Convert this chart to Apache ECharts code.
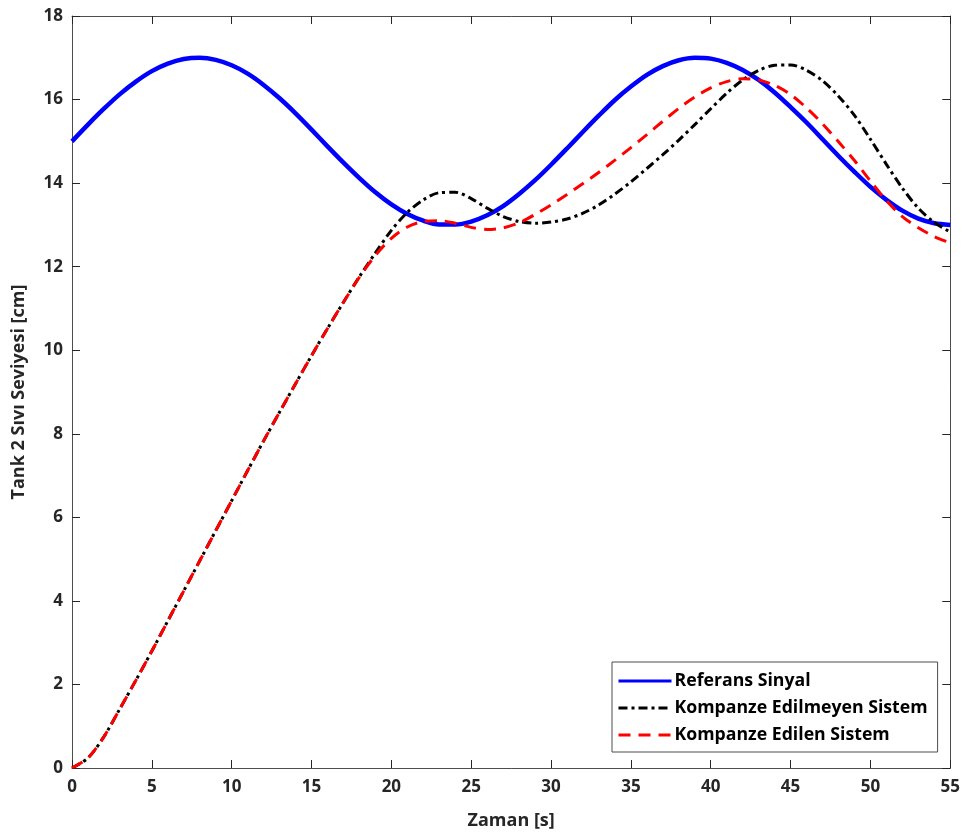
<!DOCTYPE html>
<html>
<head>
<meta charset="utf-8">
<script src="https://cdn.jsdelivr.net/npm/echarts@6/dist/echarts.min.js"></script>
<style>html,body{margin:0;padding:0;background:#fff}#c{width:963px;height:835px}</style>
</head>
<body>
<div id="c"></div>
<script>
const times = [0,1,2,3,4,5,6,7,8,9,10,11,12,13,14,15,16,17,18,19,20,21,22,23,24,25,26,27,28,29,30,31,32,33,34,35,36,37,38,39,40,41,42,43,44,45,46,47,48,49,50,51,52,53,54,55];
const referans = [15.00,15.40,15.78,16.13,16.43,16.68,16.86,16.97,17.00,16.95,16.82,16.62,16.35,16.03,15.67,15.28,14.88,14.49,14.12,13.78,13.49,13.26,13.10,13.01,13.01,13.08,13.23,13.45,13.74,14.07,14.44,14.83,15.23,15.62,15.99,16.31,16.59,16.80,16.94,17.00,16.98,16.88,16.71,16.47,16.17,15.82,15.45,15.05,14.65,14.27,13.91,13.60,13.34,13.15,13.04,13.00];
const kompanzeEdilmeyen = [0,0.24,0.75,1.42,2.1,2.8,3.52,4.24,4.96,5.68,6.4,7.12,7.83,8.52,9.2,9.87,10.52,11.15,11.76,12.33,12.87,13.3,13.6,13.77,13.78,13.63,13.4,13.2,13.08,13.04,13.07,13.14,13.28,13.48,13.74,14.03,14.35,14.68,15.03,15.4,15.78,16.15,16.47,16.7,16.82,16.83,16.7,16.45,16.08,15.62,15.05,14.45,13.88,13.4,13.06,12.83];
const kompanzeEdilen = [0,0.24,0.75,1.42,2.1,2.8,3.52,4.24,4.96,5.68,6.4,7.12,7.83,8.52,9.2,9.87,10.52,11.15,11.75,12.27,12.68,12.95,13.08,13.1,13.04,12.94,12.89,12.93,13.05,13.25,13.48,13.73,13.99,14.26,14.55,14.85,15.16,15.48,15.79,16.06,16.28,16.43,16.5,16.47,16.34,16.12,15.8,15.42,14.99,14.54,14.05,13.58,13.2,12.93,12.72,12.57];
const seriesNames = ['Referans Sinyal','Kompanze Edilmeyen Sistem','Kompanze Edilen Sistem'];
const xTitle = 'Zaman [s]';
const yTitle = 'Tank 2 Sıvı Seviyesi [cm]';

const pairs = arr => times.map((t,i)=>[t,arr[i]]);
const FONT = 'Open Sans';
const txt = '#262626';
const axisBase = {
  axisLine:{show:true,onZero:false,lineStyle:{color:'#4d4d4d',width:1}},
  axisTick:{show:true,inside:true,length:8,lineStyle:{color:'#262626',width:1}},
  splitLine:{show:false}
};
const chart = echarts.init(document.getElementById('c'),null,{renderer:'canvas'});
chart.setOption({
  animation:false,
  backgroundColor:'#fff',
  grid:{left:72,right:11,top:16,bottom:67,containLabel:false},
  xAxis:[
    Object.assign({type:'value',min:0,max:55,interval:5,position:'bottom',
      name:xTitle,nameLocation:'middle',nameGap:44,
      nameTextStyle:{fontFamily:FONT,fontWeight:'bold',fontSize:18,color:txt},
      axisLabel:{fontFamily:FONT,fontWeight:'bold',fontSize:17,color:txt,margin:11}},axisBase),
    Object.assign({type:'value',min:0,max:55,interval:5,position:'top',axisLabel:{show:false}},axisBase)
  ],
  yAxis:[
    Object.assign({type:'value',min:0,max:18,interval:2,position:'left',
      name:yTitle,nameLocation:'middle',nameGap:44,
      nameTextStyle:{fontFamily:FONT,fontWeight:'bold',fontSize:18,color:txt},
      axisLabel:{fontFamily:FONT,fontWeight:'bold',fontSize:17,color:txt,margin:9}},axisBase),
    Object.assign({type:'value',min:0,max:18,interval:2,position:'right',axisLabel:{show:false}},axisBase)
  ],
  legend:{
    orient:'vertical',left:612,top:662,
    backgroundColor:'#fff',borderColor:'#4d4d4d',borderWidth:1,
    padding:[10,10,8,5],itemGap:9,itemHeight:20,itemWidth:53,
    itemStyle:{opacity:0},
    lineStyle:{width:3},
    textStyle:{fontFamily:FONT,fontWeight:'bold',fontSize:17.7,color:'#000',padding:[0,0,0,-2]},
    data:seriesNames
  },
  series:[
    {name:seriesNames[0],type:'line',data:pairs(referans),smooth:0.3,symbol:'none',
     lineStyle:{color:'#0000ff',width:4.5},itemStyle:{color:'#0000ff'},z:3},
    {name:seriesNames[1],type:'line',data:pairs(kompanzeEdilmeyen),smooth:0.3,symbol:'none',
     lineStyle:{color:'#000000',width:3,type:[9,4,3,4]},itemStyle:{color:'#000'},z:4},
    {name:seriesNames[2],type:'line',data:pairs(kompanzeEdilen),smooth:0.3,symbol:'none',
     lineStyle:{color:'#ff0000',width:3,type:[12,8]},itemStyle:{color:'#ff0000'},z:5}
  ]
});
</script>
</body>
</html>
